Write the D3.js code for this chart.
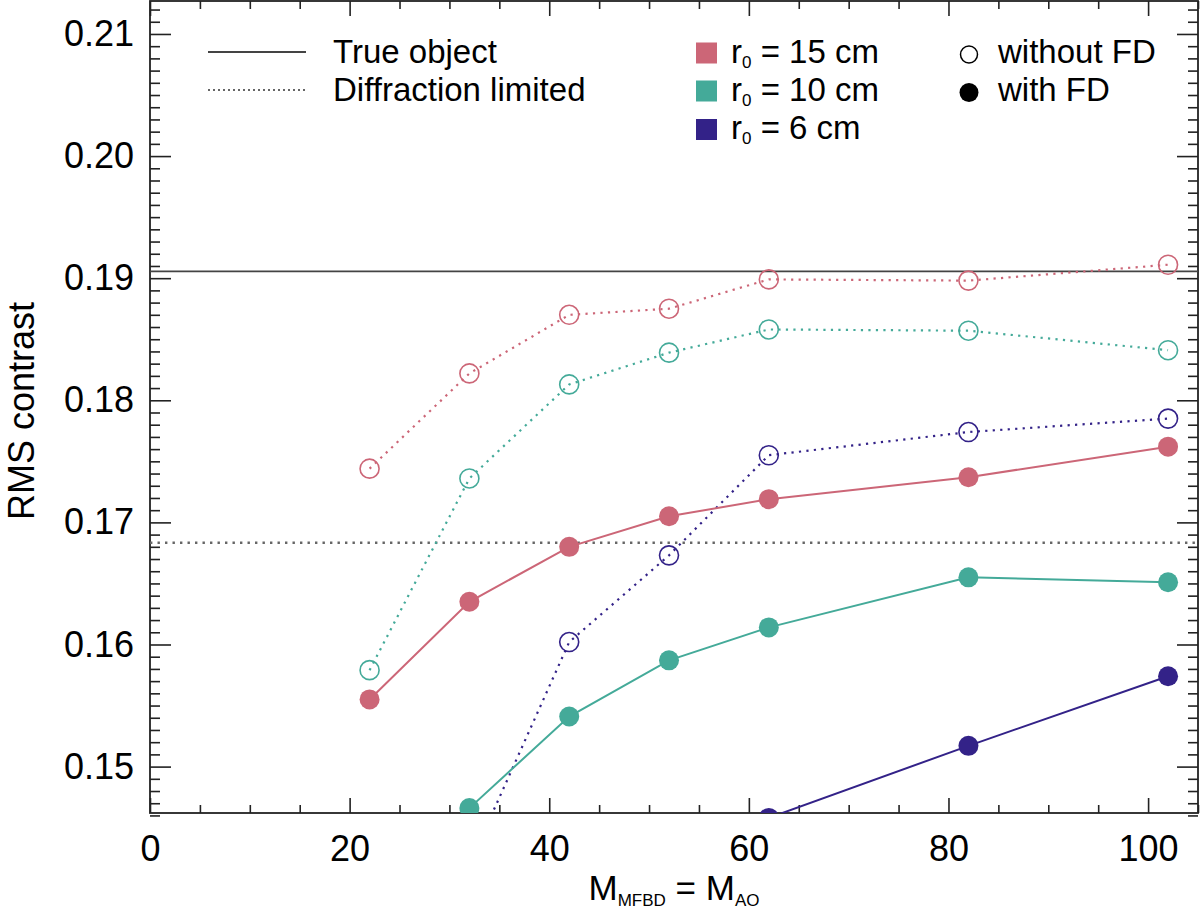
<!DOCTYPE html>
<meta charset="utf-8">
<script src="https://d3js.org/d3.v7.min.js"></script>
<style>
body { margin: 0; background: #fff; }
text { font-family: "Liberation Sans", Arial, Helvetica, sans-serif; fill: #000; }
</style>
<div id="chart"></div>
<script>

// ---------------------------//
//           DATA             //
// ---------------------------//
var modes = [22, 32, 42, 52, 62, 82, 102];

// r0 = 15 cm
var r15_withoutFD = [0.1744, 0.1822, 0.1870, 0.1875, 0.1899, 0.1898, 0.1911];
var r15_withFD    = [0.1555, 0.1635, 0.1680, 0.1705, 0.1719, 0.1737, 0.1762];
// r0 = 10 cm
var r10_withoutFD = [0.1579, 0.1736, 0.1813, 0.1839, 0.1858, 0.1857, 0.1841];
var r10_withFD    = [null,   0.1466, 0.1541, 0.1587, 0.1614, 0.1655, 0.1651];
// r0 = 6 cm
var r6_withoutFD  = [null,   0.1420, 0.1602, 0.1673, 0.1755, 0.1774, 0.1785];
var r6_withFD     = [null,   null,   null,   null,   0.1458, 0.1517, 0.1574];

var trueObject = 0.19055;
var diffractionLimited = 0.16833;

var xTicks = [0, 20, 40, 60, 80, 100];
var yTicks = [0.15, 0.16, 0.17, 0.18, 0.19, 0.20, 0.21];

var seeingLabels = ["15", "10", "6"];
var seeingColors = ["#CC6677", "#44AA99", "#332288"];
var lineLabels = ["True object", "Diffraction limited"];
var fdLabels = ["without FD", "with FD"];

// ---------------------------//
//        SVG + SCALES        //
// ---------------------------//
var W = 1200, H = 913;
var plot = {left: 150, right: 1198, top: 1, bottom: 813};

var svg = d3.select("#chart")
  .append("svg")
    .attr("width", W)
    .attr("height", H);

var x = d3.scaleLinear()
  .domain([0, 105])
  .range([plot.left, plot.right]);

var y = d3.scaleLinear()
  .domain([0.1462, 0.2127])
  .range([plot.bottom, plot.top]);

// clip everything to the plot box
svg.append("defs").append("clipPath")
    .attr("id", "plotclip")
  .append("rect")
    .attr("x", plot.left)
    .attr("y", plot.top)
    .attr("width", plot.right - plot.left)
    .attr("height", plot.bottom - plot.top);

// ---------------------------//
//           AXES             //
// ---------------------------//
var xMinor = d3.range(0, 106, 5).filter(function(d){ return d % 20 != 0; });
var yMinor = d3.range(146, 213).map(function(d){ return d / 1000; })
  .filter(function(d){ return Math.round(d * 1000) % 10 != 0; });

function styleAxis(g) {
  g.select(".domain").remove();
  g.selectAll(".tick line").attr("stroke", "#222").attr("stroke-width", 1.6);
  g.selectAll("text")
    .style("font-size", "36px")
    .style("font-family", "'Liberation Sans', Arial, sans-serif")
    .attr("fill", "#000");
}

// bottom
svg.append("g")
  .attr("transform", "translate(0," + plot.bottom + ")")
  .call(d3.axisBottom(x).tickValues(xTicks).tickSize(-15).tickPadding(22)
        .tickFormat(d3.format("d")))
  .call(styleAxis);
svg.append("g")
  .attr("transform", "translate(0," + plot.bottom + ")")
  .call(d3.axisBottom(x).tickValues(xMinor).tickSize(-8).tickFormat(""))
  .call(styleAxis);
// top
svg.append("g")
  .attr("transform", "translate(0," + plot.top + ")")
  .call(d3.axisTop(x).tickValues(xTicks).tickSize(-15).tickFormat(""))
  .call(styleAxis);
svg.append("g")
  .attr("transform", "translate(0," + plot.top + ")")
  .call(d3.axisTop(x).tickValues(xMinor).tickSize(-8).tickFormat(""))
  .call(styleAxis);
// left
svg.append("g")
  .attr("transform", "translate(" + plot.left + ",0)")
  .call(d3.axisLeft(y).tickValues(yTicks).tickSize(-21).tickPadding(16)
        .tickFormat(d3.format(".2f")))
  .call(styleAxis);
svg.append("g")
  .attr("transform", "translate(" + plot.left + ",0)")
  .call(d3.axisLeft(y).tickValues(yMinor).tickSize(-10).tickFormat(""))
  .call(styleAxis);
// right
svg.append("g")
  .attr("transform", "translate(" + plot.right + ",0)")
  .call(d3.axisRight(y).tickValues(yTicks).tickSize(-21).tickFormat(""))
  .call(styleAxis);
svg.append("g")
  .attr("transform", "translate(" + plot.right + ",0)")
  .call(d3.axisRight(y).tickValues(yMinor).tickSize(-10).tickFormat(""))
  .call(styleAxis);

// frame
svg.append("rect")
  .attr("x", plot.left)
  .attr("y", plot.top)
  .attr("width", plot.right - plot.left)
  .attr("height", plot.bottom - plot.top)
  .attr("fill", "none")
  .attr("stroke", "#222")
  .attr("stroke-width", 1.8);

// axis titles
var xTitle = svg.append("text")
  .attr("x", (plot.left + plot.right) / 2)
  .attr("y", 900)
  .attr("text-anchor", "middle")
  .style("font-size", "35px");
xTitle.append("tspan").text("M");
xTitle.append("tspan").attr("dy", 6).style("font-size", "17px").text("MFBD");
xTitle.append("tspan").attr("dy", -6).text(" = M");
xTitle.append("tspan").attr("dy", 6).style("font-size", "17px").text("AO");

svg.append("text")
  .attr("transform", "translate(34," + 411 + ") rotate(-90)")
  .attr("text-anchor", "middle")
  .style("font-size", "36px")
  .text("RMS contrast");

// ---------------------------//
//     REFERENCE LINES        //
// ---------------------------//
var inside = svg.append("g").attr("clip-path", "url(#plotclip)");

inside.append("line")
  .attr("x1", plot.left).attr("x2", plot.right)
  .attr("y1", y(trueObject)).attr("y2", y(trueObject))
  .attr("stroke", "#444").attr("stroke-width", 1.8);

inside.append("line")
  .attr("x1", plot.left).attr("x2", plot.right)
  .attr("y1", y(diffractionLimited)).attr("y2", y(diffractionLimited))
  .attr("stroke", "#666").attr("stroke-width", 2.4)
  .attr("stroke-dasharray", "2.4,5.1");

// ---------------------------//
//     SERIES + MARKERS       //
// ---------------------------//
var series = [
  {values: r15_withoutFD, color: seeingColors[0], filled: false},
  {values: r10_withoutFD, color: seeingColors[1], filled: false},
  {values: r6_withoutFD,  color: seeingColors[2], filled: false},
  {values: r15_withFD,    color: seeingColors[0], filled: true},
  {values: r10_withFD,    color: seeingColors[1], filled: true},
  {values: r6_withFD,     color: seeingColors[2], filled: true}
];

var line = d3.line()
  .defined(function(d){ return d[1] != null; })
  .x(function(d){ return x(d[0]); })
  .y(function(d){ return y(d[1]); });

series.forEach(function(s) {
  var pts = modes.map(function(m, i){ return [m, s.values[i]]; });

  inside.append("path")
    .datum(pts)
    .attr("d", line)
    .attr("fill", "none")
    .attr("stroke", s.color)
    .attr("stroke-width", s.filled ? 2 : 2.2)
    .attr("stroke-dasharray", s.filled ? null : "2.2,5.3");

  inside.selectAll(null)
    .data(pts.filter(function(d){ return d[1] != null; }))
    .enter()
    .append("circle")
      .attr("cx", function(d){ return x(d[0]); })
      .attr("cy", function(d){ return y(d[1]); })
      .attr("r", s.filled ? 10 : 9.5)
      .attr("fill", s.filled ? s.color : "none")
      .attr("stroke", s.filled ? "none" : s.color)
      .attr("stroke-width", 1.6);
});

// ---------------------------//
//           LEGEND           //
// ---------------------------//
var rowY = [62.5, 100.5, 139];

// reference lines
lineLabels.forEach(function(lbl, i) {
  svg.append("line")
    .attr("x1", 208).attr("x2", 306)
    .attr("y1", rowY[i] - 10.5).attr("y2", rowY[i] - 10.5)
    .attr("stroke", i == 0 ? "#444" : "#666")
    .attr("stroke-width", i == 0 ? 1.8 : 2)
    .attr("stroke-dasharray", i == 0 ? null : "2,3");
  svg.append("text")
    .attr("x", 333).attr("y", rowY[i])
    .style("font-size", "33px")
    .text(lbl);
});

// seeing colours
seeingLabels.forEach(function(lbl, i) {
  svg.append("rect")
    .attr("x", 696).attr("y", rowY[i] - 20)
    .attr("width", 21).attr("height", 21)
    .attr("fill", seeingColors[i]);
  var t = svg.append("text")
    .attr("x", 731).attr("y", rowY[i])
    .style("font-size", "33px");
  t.append("tspan").text("r");
  t.append("tspan").attr("dy", 5).style("font-size", "17px").text("0");
  t.append("tspan").attr("dy", -5).text(" = " + lbl + " cm");
});

// marker style
fdLabels.forEach(function(lbl, i) {
  svg.append("circle")
    .attr("cx", 969).attr("cy", rowY[i] - 8)
    .attr("r", i == 0 ? 8.5 : 9.5)
    .attr("fill", i == 0 ? "none" : "#000")
    .attr("stroke", i == 0 ? "#000" : "none")
    .attr("stroke-width", 1.5);
  svg.append("text")
    .attr("x", 998).attr("y", rowY[i])
    .style("font-size", "33px")
    .text(lbl);
});

</script>
